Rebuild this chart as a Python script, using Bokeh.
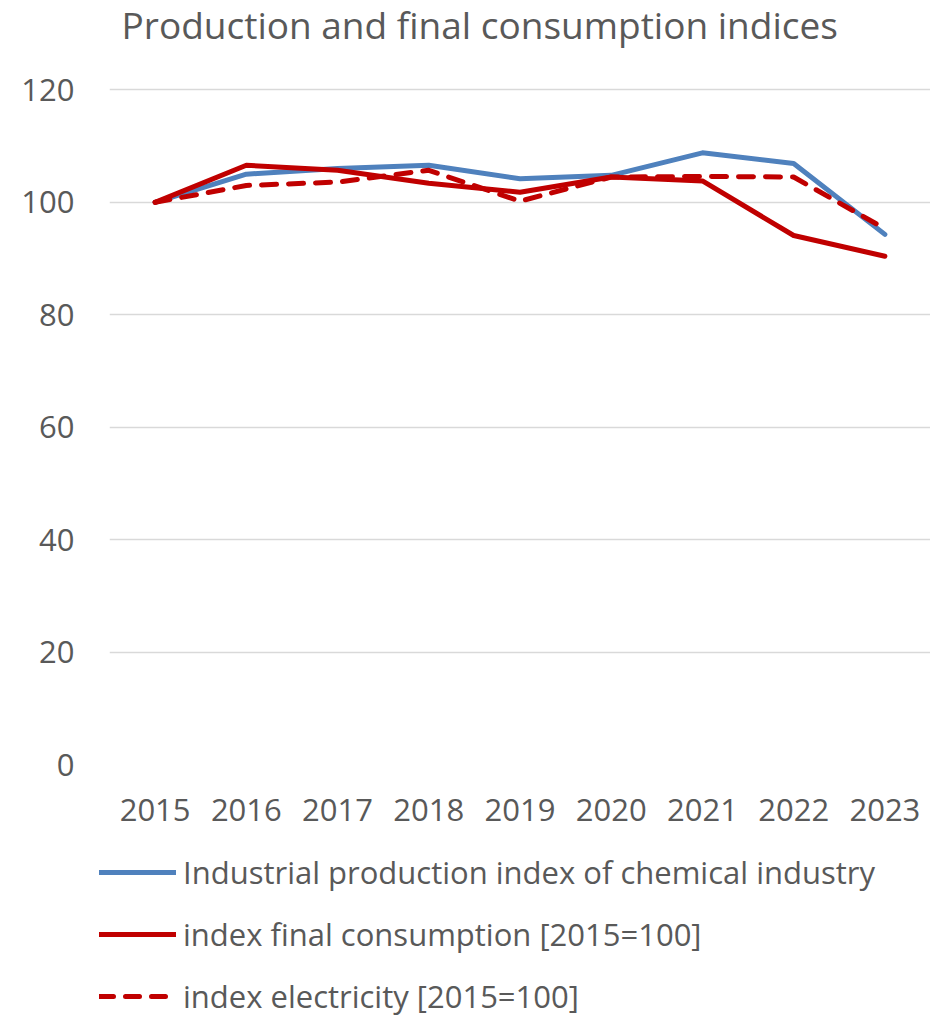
import numpy as np
from bokeh.plotting import figure
from bokeh.models import Range1d, FactorRange, Legend, LegendItem, FixedTicker, Label, Plot
from bokeh.layouts import column
from bokeh.embed import file_html
from bokeh.resources import INLINE

years = ["2015", "2016", "2017", "2018", "2019", "2020", "2021", "2022", "2023"]
industrial = [100.0, 105.0, 106.0, 106.6, 104.2, 104.8, 108.8, 106.9, 94.3]
final_consumption = [100.0, 106.6, 105.7, 103.4, 101.8, 104.5, 103.8, 94.1, 90.4]
electricity = [100.0, 103.0, 103.6, 105.7, 100.2, 104.5, 104.6, 104.5, 95.3]
y_ticks = [0, 20, 40, 60, 80, 100, 120]

title_text = "Production and final consumption indices"
names = [
    "Industrial production index of chemical industry",
    "index final consumption [2015=100]",
    "index electricity [2015=100]",
]

FONT = "Open Sans"
TXT = "#595959"
BLUE = "#4f81bd"
RED = "#c00000"

can_unalign = "frame_align" in Plot.properties()

# main chart: frame spans from the canvas top; the area above 120 holds the title
p = figure(
    x_range=FactorRange(*years),
    y_range=Range1d(0, 135.9),
    width=930, height=850,
    output_backend="svg", toolbar_location=None,
    min_border_left=109, min_border_right=0,
    min_border_top=0, min_border_bottom=86,
)
p.outline_line_color = None
p.background_fill_color = "white"
p.border_fill_color = "white"
if can_unalign:
    p.frame_align = False

p.xgrid.grid_line_color = None
p.ygrid.grid_line_color = "#d9d9d9"
p.ygrid.grid_line_width = 1.5

for ax in (p.xaxis[0], p.yaxis[0]):
    ax.axis_line_color = None
    ax.major_tick_line_color = None
    ax.minor_tick_line_color = None
    ax.major_tick_in = 0
    ax.major_tick_out = 0
    ax.major_label_text_font = FONT
    ax.major_label_text_font_size = "31px"
    ax.major_label_text_color = TXT

p.yaxis.ticker = FixedTicker(ticks=y_ticks)
p.yaxis.major_label_standoff = 35
p.xaxis.major_label_standoff = 34

p.line(years, industrial, line_color=BLUE, line_width=5, line_join="round", line_cap="round")
p.line(years, final_consumption, line_color=RED, line_width=5, line_join="round", line_cap="round")
p.line(years, electricity, line_color=RED, line_width=5, line_dash="15 12", line_join="round", line_cap="round")

p.add_layout(Label(
    x=12, y=131.7, x_units="screen", y_units="data",
    text=title_text, text_font=FONT, text_font_size="37px",
    text_color=TXT, text_baseline="alphabetic", text_align="left",
))

# legend strip below the chart
q = figure(
    x_range=Range1d(0, 1), y_range=Range1d(0, 1),
    width=930, height=167,
    output_backend="svg", toolbar_location=None,
    min_border_left=0, min_border_right=0, min_border_top=0, min_border_bottom=0,
)
q.axis.visible = False
q.grid.visible = False
q.outline_line_color = None
q.background_fill_color = "white"
q.border_fill_color = "white"
if can_unalign:
    q.frame_align = False

nan = [np.nan]
l1 = q.line(x=nan, y=nan, line_color=BLUE, line_width=5, line_cap="round")
l2 = q.line(x=nan, y=nan, line_color=RED, line_width=5, line_cap="round")
l3 = q.line(x=nan, y=nan, line_color=RED, line_width=5, line_dash="14 12", line_cap="round")

legend = Legend(
    items=[LegendItem(label=names[0], renderers=[l1]),
           LegendItem(label=names[1], renderers=[l2]),
           LegendItem(label=names[2], renderers=[l3])],
    location=(99 if can_unalign else -10, 0),
    orientation="vertical",
    glyph_width=77, glyph_height=40, label_height=40,
    spacing=20, label_standoff=7,
    padding=0, margin=0,
    border_line_color=None, background_fill_alpha=0,
    label_text_font=FONT, label_text_font_size="31px", label_text_color=TXT,
)
q.add_layout(legend, "center")

layout = column(p, q, spacing=0)
open("out.html", "w").write(file_html(layout, INLINE))
